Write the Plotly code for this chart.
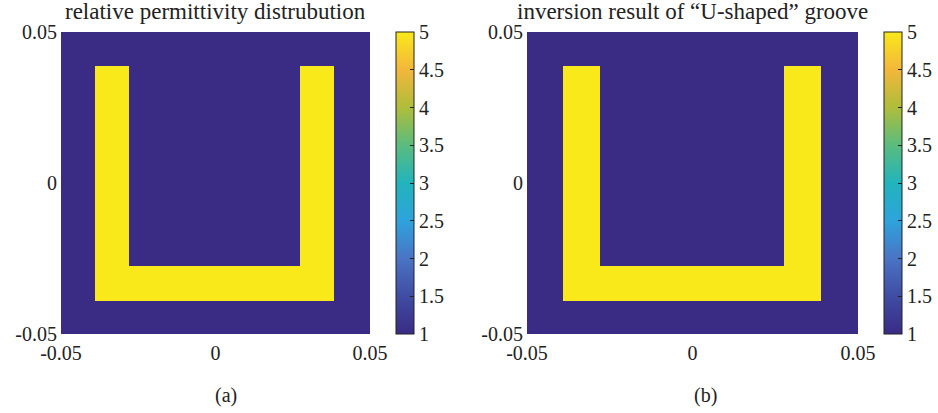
import plotly.graph_objects as go

W, H = 938, 413

# Grid edges (data units) and permittivity values for each panel
xa_edges = [-0.05, -0.039, -0.028, 0.0273, 0.0383, 0.05]
xb_edges = [-0.05, -0.0392, -0.028, 0.0277, 0.0389, 0.05]
y_edges = [-0.05, -0.0391, -0.0276, 0.0387, 0.05]
# rows from bottom to top, columns left to right
z_a = [
    [1, 1, 1, 1, 1],
    [1, 5, 5, 5, 1],
    [1, 5, 1, 5, 1],
    [1, 1, 1, 1, 1],
]
z_b = [
    [1, 1, 1, 1, 1],
    [1, 5, 5, 5, 1],
    [1, 5, 1, 5, 1],
    [1, 1, 1, 1, 1],
]
titles = ["relative permittivity distrubution", "inversion result of \u201cU-shaped\u201d groove"]
captions = ["(a)", "(b)"]
axis_ticks = [-0.05, 0, 0.05]
axis_ticktext = ["-0.05", "0", "0.05"]
cbar_ticks = [1, 1.5, 2, 2.5, 3, 3.5, 4, 4.5, 5]
cbar_ticktext = ["1", "1.5", "2", "2.5", "3", "3.5", "4", "4.5", "5"]

parula = [
    [0.0, "#3A2B85"],
    [0.125, "#3F4DA2"],
    [0.25, "#4A74C4"],
    [0.375, "#2EA3DC"],
    [0.5, "#22B4BC"],
    [0.625, "#5ABC7E"],
    [0.75, "#AFBD3A"],
    [0.875, "#F3B73B"],
    [1.0, "#F9E81A"],
]

FONT = "Liberation Serif, Times New Roman, serif"
FS = 20
FS_T = 23

# pixel layout
plot_top, plot_bot = 32, 334
pa = (61, 370)
pb = (527, 858)
cba_x = 396
cbb_x = 884
cb_th = 18


def px(x):
    return x / W


def py(y):
    return 1 - y / H


fig = go.Figure()

for i, (xe, z, cbx) in enumerate([(xa_edges, z_a, cba_x), (xb_edges, z_b, cbb_x)]):
    fig.add_trace(go.Heatmap(
        x=xe, y=y_edges, z=z,
        zmin=1, zmax=5,
        colorscale=parula,
        xaxis="x" if i == 0 else "x2",
        yaxis="y" if i == 0 else "y2",
        showscale=True,
        hoverinfo="skip",
        colorbar=dict(
            x=px(cbx), xanchor="left", xref="paper",
            y=py(plot_top), yanchor="top",
            len=(plot_bot - plot_top) / H, lenmode="fraction",
            thickness=cb_th, thicknessmode="pixels",
            xpad=0, ypad=0,
            outlinewidth=1, outlinecolor="#222222",
            ticks="inside", ticklen=4, tickwidth=1, tickcolor="#222222",
            tickvals=cbar_ticks, ticktext=cbar_ticktext,
            tickfont=dict(family=FONT, size=FS, color="#222222"),
        ),
    ))

axis_common = dict(
    showgrid=False, zeroline=False, showline=False, ticks="",
    tickvals=axis_ticks, ticktext=axis_ticktext,
    tickfont=dict(family=FONT, size=FS, color="#222222"),
    range=[-0.05, 0.05], automargin=False,
)

fig.update_layout(
    template="none",
    font=dict(family=FONT, size=FS, color="#222222"),
    width=W, height=H,
    margin=dict(l=0, r=0, t=0, b=0, autoexpand=False),
    paper_bgcolor="white", plot_bgcolor="white",
    showlegend=False,
    xaxis=dict(domain=[px(pa[0]), px(pa[1])], anchor="y", ticklabelstandoff=5, **axis_common),
    yaxis=dict(domain=[py(plot_bot), py(plot_top)], anchor="x", ticklabelstandoff=3, **axis_common),
    xaxis2=dict(domain=[px(pb[0]), px(pb[1])], anchor="y2", ticklabelstandoff=5, **axis_common),
    yaxis2=dict(domain=[py(plot_bot), py(plot_top)], anchor="x2", ticklabelstandoff=3, **axis_common),
)

centers = [(pa[0] + pa[1]) / 2, (pb[0] + pb[1]) / 2]
cap_x = [226, 705]
for i in range(2):
    fig.add_annotation(
        x=px(centers[i]), y=py(11), xref="paper", yref="paper",
        text=titles[i], showarrow=False, xanchor="center", yanchor="middle",
        font=dict(family=FONT, size=FS_T, color="#222222"),
    )
    fig.add_annotation(
        x=px(cap_x[i]), y=py(395), xref="paper", yref="paper",
        text=captions[i], showarrow=False, xanchor="center", yanchor="middle",
        font=dict(family=FONT, size=FS, color="#222222"),
    )

fig.write_html("out.html")
